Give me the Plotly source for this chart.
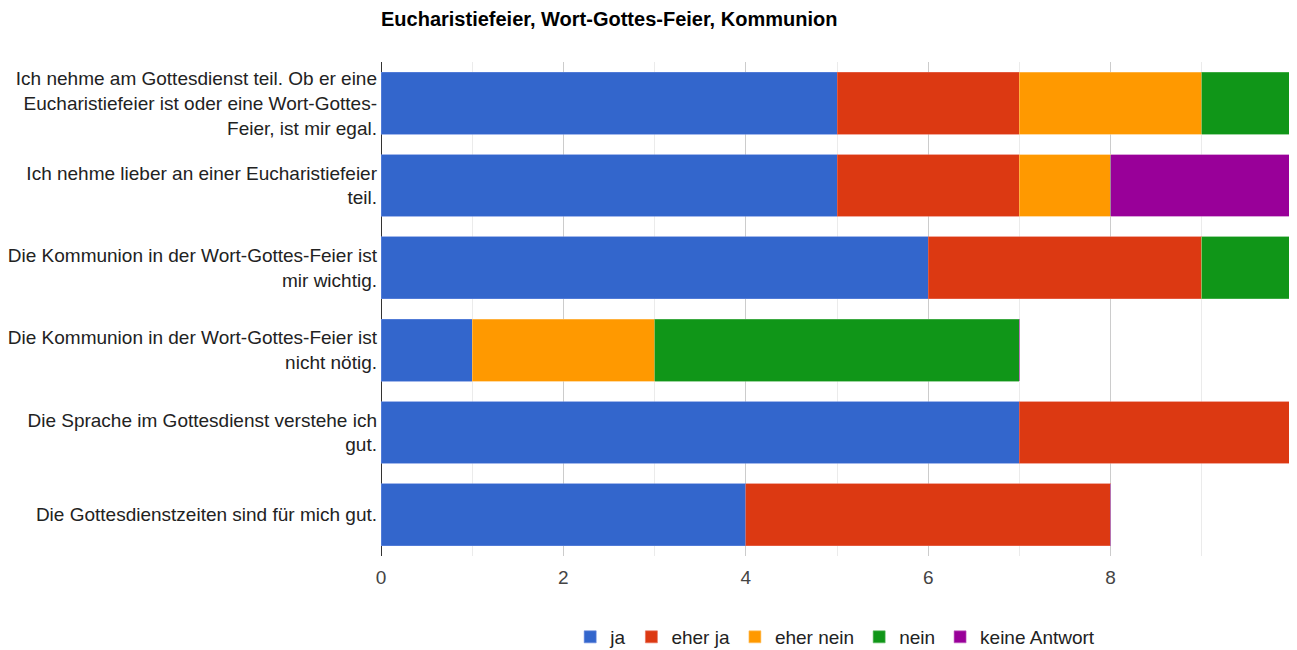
import plotly.graph_objects as go

questions = [
    "Ich nehme am Gottesdienst teil. Ob er eine<br>Eucharistiefeier ist oder eine Wort-Gottes-<br>Feier, ist mir egal.",
    "Ich nehme lieber an einer Eucharistiefeier<br>teil.",
    "Die Kommunion in der Wort-Gottes-Feier ist<br>mir wichtig.",
    "Die Kommunion in der Wort-Gottes-Feier ist<br>nicht nötig.",
    "Die Sprache im Gottesdienst verstehe ich<br>gut.",
    "Die Gottesdienstzeiten sind für mich gut.",
]

answers = ["ja", "eher ja", "eher nein", "nein", "keine Antwort"]
ja = [5, 5, 6, 1, 7, 4]
eher_ja = [2, 2, 3, 0, 3, 4]
eher_nein = [2, 1, 0, 2, 0, 0]
nein = [1, 0, 1, 4, 0, 0]
keine_antwort = [0, 2, 0, 0, 0, 0]

x_ticks = [0, 2, 4, 6, 8, 10]
x_tick_text = ["0", "2", "4", "6", "8", ""]

series = [ja, eher_ja, eher_nein, nein, keine_antwort]
colors = ["#3366cc", "#dc3912", "#ff9900", "#109618", "#990099"]
edges = ["#6688dd", "#e8705a", "#ffc266", "#5cb85f", "#c266c2"]

fig = go.Figure()
for name, vals, col, edge in zip(answers, series, colors, edges):
    fig.add_trace(go.Bar(
        y=questions, x=vals, name=name, orientation="h",
        marker=dict(color=col, line=dict(color=edge, width=0.6)),
    ))

# page body has an 8px margin, so the figure is sized/offset to compensate
fig.update_layout(
    barmode="stack",
    bargap=0.25,
    width=1289, height=642,
    margin=dict(l=373, r=4, t=54, b=94, autoexpand=False),
    paper_bgcolor="white", plot_bgcolor="white",
    font=dict(family="Liberation Sans, Arial, sans-serif", size=19, color="#222"),
    title=dict(text="<b>Eucharistiefeier, Wort-Gottes-Feier, Kommunion</b>",
               x=373 / 1289, xanchor="left", y=1 - 11 / 642, yanchor="middle",
               font=dict(size=20, color="#000")),
    legend=dict(orientation="h", x=0.498, xanchor="center", y=-0.164, yanchor="middle",
                font=dict(size=19, color="#222"), traceorder="normal"),
    xaxis=dict(range=[0, 10], tickvals=x_ticks, ticktext=x_tick_text, showgrid=True,
               gridcolor="#cccccc", zeroline=True, zerolinecolor="#333333",
               zerolinewidth=1, ticks="", tickfont=dict(size=19, color="#444"),
               ticklabelstandoff=8, automargin=False,
               minor=dict(dtick=1, showgrid=True, gridcolor="#ebebeb"),
               showline=False, fixedrange=True),
    yaxis=dict(autorange="reversed", showgrid=False, ticks="", automargin=False,
               tickfont=dict(size=19, color="#222"), ticklabelstandoff=3),
)

fig.write_html("out.html")
